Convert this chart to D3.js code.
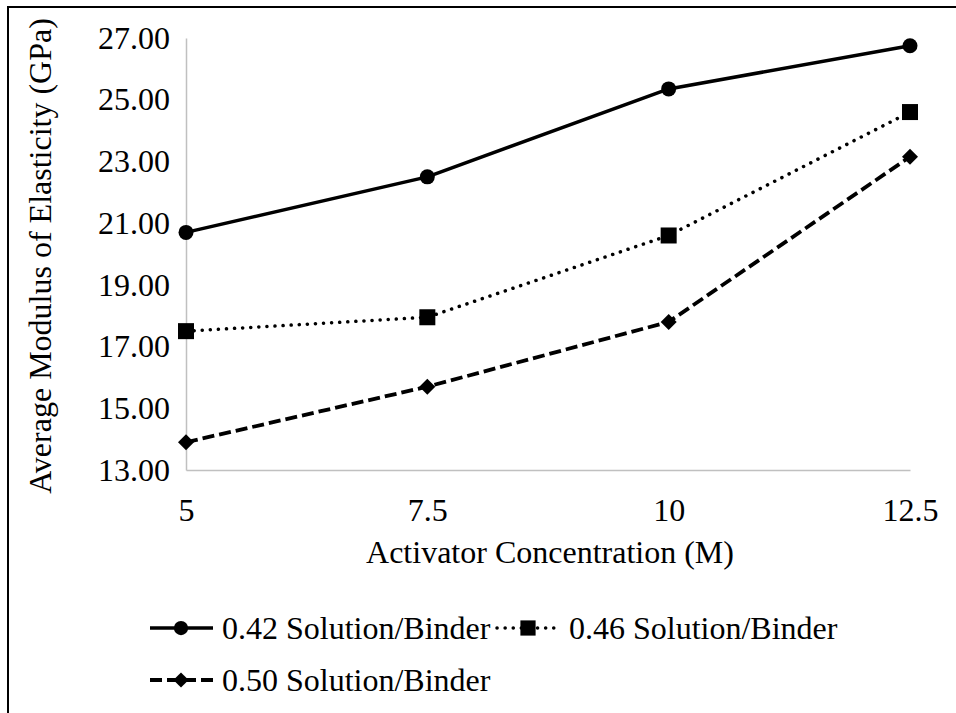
<!DOCTYPE html>
<html><head><meta charset="utf-8">
<script src="https://cdn.jsdelivr.net/npm/d3@7"></script>
<style>body{margin:0;background:#fff}svg{display:block}
svg text{font-family:'Liberation Serif';font-size:32px;fill:#000}</style>
</head><body><svg id="c" width="956" height="713"></svg>
<script>
const categories = [5, 7.5, 10, 12.5];
const s042 = [20.70, 22.50, 25.35, 26.75];
const s046 = [17.50, 17.95, 20.60, 24.60];
const s050 = [13.90, 15.70, 17.80, 23.15];
const seriesNames = ["0.42 Solution/Binder", "0.46 Solution/Binder", "0.50 Solution/Binder"];
const yTicks = [13, 15, 17, 19, 21, 23, 25, 27];

const TSTYLE = "font-family:'Liberation Serif';font-size:32px;fill:#000";
const svg = d3.select("#c");
function styleText(sel){ sel.attr("style",TSTYLE).attr("font-family",null).attr("font-size",null); return sel; }

svg.append("rect").attr("x",8).attr("y",7).attr("width",1000).attr("height",800)
  .attr("fill","none").attr("stroke","#000").attr("stroke-width",2);

const x = d3.scalePoint().domain(categories).range([186, 910]);
const y = d3.scaleLinear().domain([13, 27]).range([470, 38]);

const yAxis = d3.axisLeft(y).tickValues(yTicks).tickSize(0).tickPadding(16).tickFormat(d3.format(".2f"));
const gy = svg.append("g").attr("transform","translate(186,0)").call(yAxis);
gy.attr("font-family",null).attr("font-size",null);
gy.select(".domain").attr("stroke","#c0c0c0").attr("stroke-width",1.5);
styleText(gy.selectAll("text"));

const xAxis = d3.axisBottom(x).tickSize(0).tickPadding(28);
const gx = svg.append("g").attr("transform","translate(0,470)").call(xAxis);
gx.attr("font-family",null).attr("font-size",null);
gx.select(".domain").attr("stroke","#c0c0c0").attr("stroke-width",1.5);
styleText(gx.selectAll("text"));

styleText(svg.append("text").attr("transform","translate(40,256) rotate(-90)").attr("text-anchor","middle")
  .attr("dominant-baseline","central")).text("Average Modulus of Elasticity (GPa)");
styleText(svg.append("text").attr("x",550).attr("y",552).attr("text-anchor","middle")
  .attr("dominant-baseline","central")).text("Activator Concentration (M)");

const styles = [
  {data:s042, dash:null, cap:"butt", w:3.5, marker:"circle"},
  {data:s046, dash:"0.1 8", cap:"round", w:3.5, marker:"square"},
  {data:s050, dash:"12 5", cap:"butt", w:3.8, marker:"diamond"}
];
const line = d3.line().x((d,i)=>x(categories[i])).y(d=>y(d));
function drawMarker(g, type, cx, cy, k){
  k = k || 1;
  if(type==="circle") g.append("circle").attr("cx",cx).attr("cy",cy).attr("r",7.5*k).attr("fill","#000");
  else if(type==="square") g.append("rect").attr("x",cx-8*k).attr("y",cy-8*k).attr("width",16*k).attr("height",16*k).attr("fill","#000");
  else { const r=8*k; g.append("path").attr("d",`M${cx},${cy-r}L${cx+r},${cy}L${cx},${cy+r}L${cx-r},${cy}Z`).attr("fill","#000"); }
}
styles.forEach(s=>{
  const p = svg.append("path").datum(s.data).attr("d",line).attr("fill","none").attr("stroke","#000")
    .attr("stroke-width",s.w).attr("stroke-linecap",s.cap).attr("stroke-linejoin","round");
  if(s.dash) p.attr("stroke-dasharray",s.dash);
  s.data.forEach((v,i)=>drawMarker(svg, s.marker, x(categories[i]), y(v)));
});

const legPos = [{x:150,y:628},{x:497,y:628},{x:150,y:680}];
styles.forEach((s,i)=>{
  const g = svg.append("g");
  const lp = legPos[i];
  const l = g.append("line").attr("x1",lp.x).attr("x2",lp.x+63).attr("y1",lp.y).attr("y2",lp.y)
    .attr("stroke","#000").attr("stroke-width",s.w).attr("stroke-linecap",s.cap);
  if(s.dash) l.attr("stroke-dasharray",s.dash);
  drawMarker(g, s.marker, lp.x+31, lp.y, 0.95);
  styleText(g.append("text").attr("x",lp.x+72).attr("y",lp.y).attr("dominant-baseline","central")).text(seriesNames[i]);
});
</script></body></html>
